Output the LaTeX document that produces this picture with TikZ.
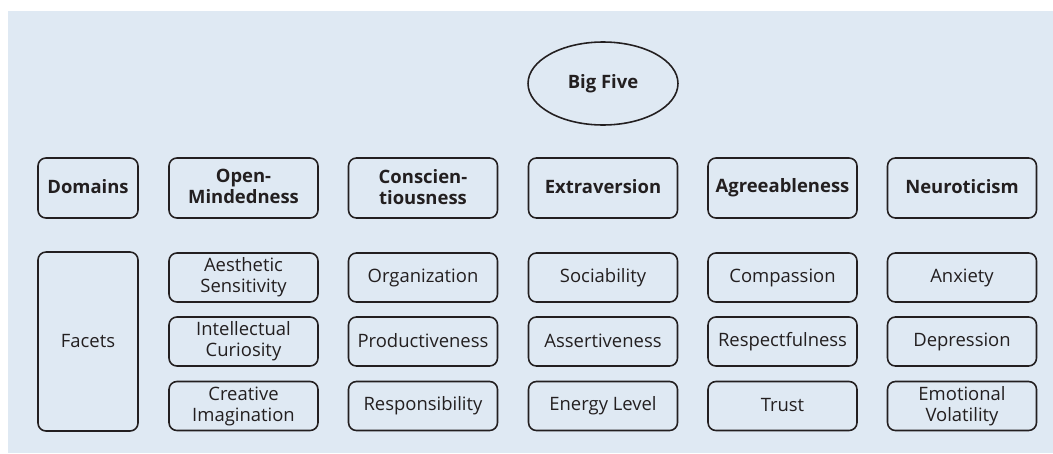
\documentclass[tikz,border=0pt]{standalone}
\usepackage{fontspec}
\setmainfont{Open Sans}
\usepackage{tikz}
\usetikzlibrary{shapes}
\definecolor{panel}{RGB}{223,233,243}
\definecolor{ink}{RGB}{35,31,32}
\newcommand{\boxstrut}{\rule[-1.5pt]{0pt}{9.5pt}}

\begin{document}
\begin{tikzpicture}[x=0.02cm,y=-0.02cm,
    box/.style={draw=ink,line width=0.9pt,rounded corners=4.5pt,align=center,
      text=ink,inner sep=0pt,font=\fontsize{10.5}{12}\selectfont,
      execute at begin node=\boxstrut,execute at end node=\boxstrut},
    domainbox/.style={box,minimum width=2.98cm,minimum height=1.2cm,
      font=\bfseries\fontsize{10.5}{12}\selectfont},
    facetbox/.style={box,minimum width=2.98cm,minimum height=0.98cm}]
  \useasboundingbox (0,0) rectangle (1053,453);
  \fill[panel] (8,11) rectangle (1053,453);

  % top
  \node[ellipse,draw=ink,line width=0.9pt,text=ink,minimum width=3cm,minimum height=1.66cm,
    font=\bfseries\fontsize{10.5}{12}\selectfont] (bigfive) at (603,83.5) {\boxstrut Big Five};

  % row labels
  \node[box,minimum width=2cm,minimum height=1.2cm,font=\bfseries\fontsize{10.5}{12}\selectfont]
    (domains) at (88,188) {Domains};
  \node[box,minimum width=2cm,minimum height=3.58cm] (facets) at (88,341.5) {Facets};

  % domains
  \node[domainbox] (open)  at (243.5,188) {Open-\\Mindedness};
  \node[domainbox] (consc) at (423,188)   {Conscien-\\tiousness};
  \node[domainbox] (extra) at (603,188)   {Extraversion};
  \node[domainbox] (agree) at (782.5,188) {Agreeableness};
  \node[domainbox] (neuro) at (962,188)   {Neuroticism};

  % facets per domain
  \node[facetbox] (open1) at (243.5,277.5) {Aesthetic\\Sensitivity};
  \node[facetbox] (open2) at (243.5,341.5) {Intellectual\\Curiosity};
  \node[facetbox] (open3) at (243.5,406)   {Creative\\Imagination};

  \node[facetbox] (consc1) at (423,277.5) {Organization};
  \node[facetbox] (consc2) at (423,341.5) {Productiveness};
  \node[facetbox] (consc3) at (423,406)   {Responsibility};

  \node[facetbox] (extra1) at (603,277.5) {Sociability};
  \node[facetbox] (extra2) at (603,341.5) {Assertiveness};
  \node[facetbox] (extra3) at (603,406)   {Energy Level};

  \node[facetbox] (agree1) at (782.5,277.5) {Compassion};
  \node[facetbox] (agree2) at (782.5,341.5) {Respectfulness};
  \node[facetbox] (agree3) at (782.5,406)   {Trust};

  \node[facetbox] (neuro1) at (962,277.5) {Anxiety};
  \node[facetbox] (neuro2) at (962,341.5) {Depression};
  \node[facetbox] (neuro3) at (962,406)   {Emotional\\Volatility};
\end{tikzpicture}
\end{document}
